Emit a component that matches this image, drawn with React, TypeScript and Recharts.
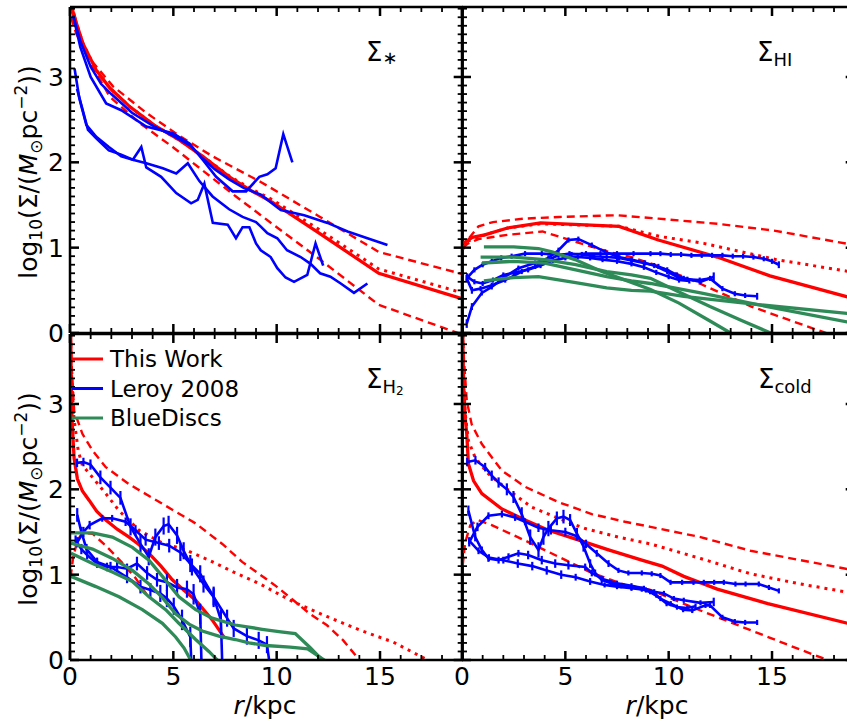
import React from 'react';
import { LineChart, Line, XAxis, YAxis, ReferenceLine, ErrorBar, Legend } from 'recharts';

const RED = '#ff0000';
const BLUE = '#0000ff';
const GREEN = '#2e8b57';

const X_MAX = 19;
const Y_MAX = 3.82;
const X_TICKS = Array.from({ length: 20 }, (_, i) => i);
const Y_TICKS = Array.from({ length: 39 }, (_, i) => i / 10);
const X_LABELS = [0, 5, 10, 15];
const Y_LABELS = [0, 1, 2, 3];

// ---- stellar surface density (top left) ----
const starSolid = [[0.05, 3.95], [0.15, 3.75], [0.63, 3.39], [1.27, 3.08], [1.93, 2.87], [2.9, 2.65], [4.17, 2.42], [5.3, 2.26], [6.42, 2.07], [7.71, 1.83], [8.68, 1.68], [9.8, 1.53], [12.0, 1.18], [14.94, 0.7], [19.0, 0.4]];
const starDotted = [[0.05, 3.95], [0.15, 3.75], [0.63, 3.39], [1.27, 3.08], [1.93, 2.87], [2.9, 2.65], [4.17, 2.42], [5.3, 2.26], [6.42, 2.07], [7.71, 1.84], [8.68, 1.7], [9.8, 1.56], [12.0, 1.22], [14.94, 0.75], [19.0, 0.47]];
const starDashHi = [[0.05, 3.9], [0.4, 3.55], [0.87, 3.24], [2.08, 2.89], [3.69, 2.58], [5.3, 2.31], [6.9, 2.07], [9.23, 1.77], [12.1, 1.36], [14.94, 0.95], [19.0, 0.69]];
const starDashLo = [[0.05, 3.7], [0.3, 3.51], [1.1, 3.12], [1.92, 2.77], [3.37, 2.46], [4.97, 2.18], [6.6, 1.87], [8.03, 1.6], [9.23, 1.38], [12.1, 0.86], [14.94, 0.33], [19.0, -0.02]];
const starL1 = [[0.15, 3.72], [0.5, 3.42], [1.0, 3.12], [1.5, 2.92], [2.0, 2.8], [3.0, 2.58], [4.0, 2.43], [5.0, 2.31], [5.8, 2.2], [6.4, 2.05], [7.0, 1.92], [7.7, 1.8], [8.4, 1.7], [9.23, 1.62], [10.2, 1.44], [11.33, 1.38], [12.46, 1.29], [13.43, 1.19], [14.39, 1.11], [15.36, 1.03]];
const starL2 = [[0.15, 3.72], [0.5, 3.35], [1.0, 3.0], [1.75, 2.69], [2.48, 2.61], [3.69, 2.42], [4.98, 2.34], [5.78, 2.22], [6.42, 2.03], [7.07, 1.83], [7.87, 1.66], [8.52, 1.66], [9.16, 1.83], [9.55, 1.86], [9.95, 1.93], [10.32, 2.33], [10.76, 2.0]];
const starL3 = [[0.22, 3.1], [0.45, 2.75], [0.79, 2.44], [1.27, 2.3], [1.88, 2.18], [2.48, 2.07], [3.04, 2.03], [3.45, 2.18], [3.69, 1.94], [4.41, 1.83], [5.14, 1.64], [5.86, 1.52], [6.18, 1.56], [6.5, 1.75], [6.91, 1.29], [7.63, 1.27], [8.03, 1.11], [8.35, 1.24], [8.68, 1.24], [9.0, 1.05], [9.23, 0.97], [9.71, 0.89], [10.03, 0.76], [10.43, 0.65], [10.84, 0.6], [11.48, 0.68], [11.88, 1.05], [12.25, 0.79]];
const starL4 = [[0.34, 2.86], [0.87, 2.38], [1.27, 2.28], [1.88, 2.14], [2.48, 2.09], [3.04, 2.03], [3.69, 1.99], [4.49, 1.93], [5.14, 1.87], [5.7, 1.99], [6.26, 1.78], [6.9, 1.6], [7.7, 1.45], [8.35, 1.36], [9.0, 1.3], [9.22, 1.25], [9.55, 1.17], [10.03, 1.11], [10.5, 0.97], [11.16, 0.89], [11.64, 0.81], [12.1, 0.7], [12.6, 0.66], [13.1, 0.58], [13.74, 0.47], [14.39, 0.58]];

// ---- HI (top right) ----
const hiSolid = [[0.05, 1.05], [0.5, 1.12], [1.1, 1.15], [2.2, 1.23], [3.8, 1.29], [7.6, 1.25], [9.5, 1.09], [12.35, 0.89], [14.9, 0.67], [19.0, 0.4]];
const hiDotted = [[0.05, 1.0], [0.3, 1.08], [0.6, 1.1], [1.1, 1.15], [2.2, 1.23], [3.8, 1.28], [7.6, 1.25], [9.6, 1.13], [11.7, 1.05], [15.2, 0.86], [19.0, 0.71]];
const hiDashHi = [[0.05, 0.98], [0.3, 1.1], [0.8, 1.25], [1.5, 1.3], [3.0, 1.34], [4.7, 1.36], [7.5, 1.38], [9.5, 1.34], [12.35, 1.28], [15.1, 1.2], [19.0, 1.03]];
const hiDashLo = [[0.05, 1.0], [0.3, 1.05], [0.8, 1.1], [2.2, 1.15], [3.9, 1.19], [5.2, 1.09], [7.1, 0.95], [8.2, 0.89], [9.3, 0.8], [11.5, 0.58], [14.0, 0.31], [17.6, 0.0], [18.5, -0.08]];
const hiL1 = [[0.23, 0.64, 0.04], [0.6, 0.74, 0.03], [1.0, 0.8, 0.03], [1.44, 0.84, 0.03], [1.9, 0.88, 0.03], [2.4, 0.9, 0.03], [3.05, 0.93, 0.03], [3.86, 0.93, 0.03], [4.6, 0.92, 0.03], [5.3, 0.92, 0.03], [6.0, 0.93, 0.03], [6.7, 0.93, 0.03], [7.5, 0.93, 0.03], [8.3, 0.93, 0.03], [9.12, 0.93, 0.03], [9.6, 0.93, 0.03], [10.1, 0.92, 0.03], [10.6, 0.92, 0.03], [11.1, 0.91, 0.03], [11.6, 0.91, 0.03], [12.1, 0.91, 0.03], [12.6, 0.91, 0.03], [13.1, 0.9, 0.03], [13.6, 0.9, 0.03], [14.1, 0.89, 0.03], [14.6, 0.87, 0.03], [15.0, 0.84, 0.03], [15.33, 0.8, 0.04]];
const hiL2 = [[0.23, 0.64, 0.04], [0.48, 0.5, 0.04], [0.9, 0.52, 0.03], [1.44, 0.56, 0.03], [2.09, 0.62, 0.03], [2.5, 0.67, 0.03], [2.89, 0.72, 0.03], [3.54, 0.78, 0.03], [4.18, 0.86, 0.03], [4.67, 0.91, 0.03], [5.2, 0.93, 0.03], [5.8, 0.92, 0.03], [6.4, 0.9, 0.03], [7.0, 0.89, 0.03], [7.6, 0.88, 0.03], [8.2, 0.85, 0.03], [8.8, 0.82, 0.03], [9.3, 0.79, 0.03], [9.93, 0.72, 0.03], [10.4, 0.66, 0.03], [10.9, 0.63, 0.03], [11.5, 0.62, 0.03], [12.0, 0.64, 0.03], [12.6, 0.52, 0.03], [13.2, 0.46, 0.03], [13.7, 0.44, 0.03], [14.28, 0.43, 0.04]];
const hiL3 = [[0.23, 0.11, 0.05], [0.48, 0.31, 0.04], [0.96, 0.47, 0.03], [1.44, 0.54, 0.03], [2.09, 0.66, 0.03], [2.73, 0.76, 0.03], [3.54, 0.82, 0.03], [4.18, 0.88, 0.03], [4.67, 0.97, 0.03], [5.15, 1.09, 0.03], [5.63, 1.1, 0.03], [6.28, 1.03, 0.03], [6.93, 0.95, 0.03], [7.57, 0.89, 0.03], [8.2, 0.86, 0.03], [8.86, 0.82, 0.03], [9.5, 0.78, 0.03], [9.93, 0.74, 0.03], [10.4, 0.68, 0.03], [10.73, 0.64, 0.03], [11.54, 0.6, 0.03], [12.18, 0.66, 0.05]];
const hiL4 = [[0.25, 0.66, 0.04], [0.6, 0.6, 0.03], [1.0, 0.58, 0.03], [1.5, 0.62, 0.03], [2.0, 0.68, 0.03], [2.6, 0.71, 0.03], [3.2, 0.74, 0.03], [3.8, 0.79, 0.03], [4.4, 0.85, 0.03], [5.0, 0.88, 0.03], [5.6, 0.89, 0.03], [6.2, 0.88, 0.03], [6.8, 0.86, 0.03], [7.5, 0.84, 0.03], [8.2, 0.81, 0.03], [8.8, 0.77, 0.03], [9.4, 0.71, 0.03], [10.0, 0.66, 0.03], [10.5, 0.62, 0.03], [11.0, 0.61, 0.03]];
const hiG1 = [[1.06, 1.01], [2.5, 1.01], [3.7, 0.99], [4.35, 0.95], [5.47, 0.86], [6.76, 0.72], [7.9, 0.62], [9.12, 0.51], [10.5, 0.35], [12.0, 0.14], [12.99, 0.0], [13.3, -0.05]];
const hiG2 = [[0.9, 0.89], [2.5, 0.89], [4.0, 0.86], [5.5, 0.8], [7.0, 0.72], [8.2, 0.68], [9.12, 0.64], [10.5, 0.48], [12.0, 0.31], [13.5, 0.15], [14.93, 0.0], [15.2, -0.04]];
const hiG3 = [[0.97, 0.82], [2.5, 0.84], [4.0, 0.82], [5.5, 0.74], [7.0, 0.66], [8.2, 0.61], [9.12, 0.58], [11.54, 0.47], [14.77, 0.31], [18.63, 0.13], [19.0, 0.12]];
const hiG4 = [[1.06, 0.61], [2.5, 0.65], [3.7, 0.66], [5.5, 0.59], [7.0, 0.53], [8.2, 0.5], [9.12, 0.49], [10.73, 0.43], [14.44, 0.33], [18.63, 0.23], [19.0, 0.22]];

// ---- H2 (bottom left) ----
const h2Solid = [[0.03, 3.9], [0.06, 3.3], [0.1, 2.8], [0.2, 2.36], [0.36, 2.12], [0.6, 1.98], [0.93, 1.87], [1.3, 1.74], [1.73, 1.64], [2.3, 1.53], [2.86, 1.44], [3.3, 1.36], [3.82, 1.25], [4.4, 1.1], [4.95, 0.94], [5.5, 0.82], [6.08, 0.7], [6.5, 0.58], [6.88, 0.47], [7.5, 0.25]];
const h2Dotted = [[0.02, 3.9], [0.08, 3.3], [0.19, 2.84], [0.4, 2.45], [0.6, 2.28], [1.09, 2.14], [1.73, 1.95], [2.37, 1.75], [3.34, 1.52], [4.47, 1.37], [5.6, 1.29], [6.72, 1.17], [8.01, 1.02], [9.2, 0.89], [10.81, 0.68], [12.42, 0.51], [14.03, 0.35], [15.64, 0.21], [17.3, 0.0], [18.0, -0.08]];
const h2DashHi = [[0.02, 3.9], [0.08, 3.46], [0.2, 2.92], [0.6, 2.65], [1.1, 2.45], [1.73, 2.26], [2.86, 2.06], [4.47, 1.83], [6.08, 1.6], [7.37, 1.36], [8.33, 1.15], [9.2, 1.0], [10.0, 0.86], [10.81, 0.7], [11.61, 0.54], [12.42, 0.41], [13.22, 0.23], [14.0, 0.0], [14.5, -0.1]];
const h2DashLo = [[0.03, 0.97], [0.15, 1.2], [0.36, 1.4], [0.6, 1.49], [1.09, 1.48], [1.73, 1.34], [2.53, 1.14], [3.17, 0.96], [3.73, 0.76]];
const h2L1 = [[0.34, 2.31, 0.05], [0.65, 2.32, 0.05], [0.99, 2.29, 0.06], [1.47, 2.14, 0.08], [1.96, 2.02, 0.08], [2.44, 1.9, 0.08], [2.93, 1.56, 0.1], [3.41, 1.36, 0.1], [3.81, 1.21, 0.1], [4.13, 1.44, 0.1], [4.53, 1.57, 0.1], [4.77, 1.59, 0.1], [5.18, 1.46, 0.1], [5.5, 1.28, 0.1], [5.9, 1.09, 0.1], [6.46, 0.89, 0.1], [6.95, 0.74, 0.12], [7.3, 0.47, 0.12], [7.4, -0.3, 0]];
const h2L2 = [[0.35, 1.38, 0.06], [0.65, 1.5, 0.06], [0.95, 1.58, 0.05], [1.56, 1.66, 0.04], [2.04, 1.66, 0.04], [2.69, 1.62, 0.05], [3.17, 1.52, 0.06], [3.66, 1.41, 0.07], [4.3, 1.37, 0.08], [4.8, 1.34, 0.08], [5.34, 1.26, 0.1], [5.82, 1.13, 0.1], [6.3, 1.01, 0.1], [6.95, 0.74, 0.1], [7.6, 0.49, 0.1], [7.92, 0.37, 0.1], [8.56, 0.28, 0.1], [9.13, 0.23, 0.1], [9.53, 0.18, 0.1], [9.75, -0.2, 0]];
const h2L3 = [[0.27, 1.4, 0.06], [0.55, 1.3, 0.06], [0.83, 1.23, 0.05], [1.31, 1.13, 0.05], [1.79, 1.09, 0.05], [2.28, 1.09, 0.06], [2.76, 1.07, 0.06], [3.24, 1.13, 0.08], [3.73, 1.02, 0.08], [4.21, 0.94, 0.08], [4.69, 0.91, 0.1], [5.18, 0.85, 0.1], [5.66, 0.83, 0.1], [5.98, 0.77, 0.12], [6.3, 0.54, 0.12], [6.38, -0.2, 0]];
const h2L4 = [[0.35, 1.7, 0.08], [0.55, 1.5, 0.06], [0.8, 1.3, 0.06], [1.31, 1.15, 0.05], [1.96, 1.09, 0.06], [2.76, 0.97, 0.07], [3.41, 0.86, 0.08], [3.89, 0.82, 0.08], [4.37, 0.78, 0.1], [4.69, 0.72, 0.1], [5.02, 0.63, 0.1], [5.42, 0.47, 0.12], [5.82, 0.27, 0.12], [5.9, -0.2, 0]];
const h2G1 = [[0.05, 1.49], [1.09, 1.49], [2.05, 1.44], [3.02, 1.32], [3.82, 1.17], [4.47, 0.98], [5.27, 0.74], [6.08, 0.59], [6.88, 0.49], [8.0, 0.41], [9.3, 0.36], [10.2, 0.33], [10.9, 0.31], [11.6, 0.15], [12.2, 0.0], [12.5, -0.08]];
const h2G2 = [[0.05, 1.37], [1.09, 1.3], [2.05, 1.19], [3.02, 1.05], [3.82, 0.89], [4.47, 0.73], [5.11, 0.54], [5.76, 0.42], [6.4, 0.34], [7.2, 0.28], [8.0, 0.24], [8.66, 0.2], [9.47, 0.17], [10.65, 0.15], [11.5, 0.13], [12.3, 0.0], [12.6, -0.06]];
const h2G3 = [[0.05, 1.25], [1.09, 1.13], [2.05, 1.03], [3.02, 0.92], [3.82, 0.74], [4.63, 0.59], [5.27, 0.43], [6.08, 0.24], [6.72, 0.1], [7.13, 0.0], [7.3, -0.05]];
const h2G4 = [[0.05, 0.98], [1.25, 0.86], [2.37, 0.74], [3.5, 0.59], [4.47, 0.43], [5.11, 0.27], [5.52, 0.14], [5.84, 0.0], [6.0, -0.06]];

// ---- cold gas (bottom right) ----
const coldSolid = [[0.03, 3.9], [0.08, 3.2], [0.15, 2.85], [0.23, 2.65], [0.31, 2.3], [0.56, 2.1], [0.96, 1.95], [1.93, 1.77], [3.05, 1.64], [4.18, 1.52], [5.47, 1.42], [7.09, 1.29], [8.7, 1.17], [9.68, 1.1], [10.73, 0.98], [12.35, 0.83], [14.8, 0.66], [19.0, 0.41]];
const coldDotted = [[0.03, 3.9], [0.08, 3.3], [0.15, 2.9], [0.31, 2.57], [0.64, 2.37], [1.28, 2.18], [2.25, 1.99], [3.38, 1.79], [4.67, 1.66], [5.96, 1.54], [7.57, 1.44], [9.12, 1.36], [11.54, 1.19], [13.96, 1.01], [16.38, 0.89], [19.0, 0.78]];
const coldDashHi = [[0.02, 3.9], [0.1, 3.5], [0.23, 3.04], [0.47, 2.76], [0.96, 2.53], [1.93, 2.22], [3.05, 2.03], [4.67, 1.85], [6.28, 1.71], [7.89, 1.62], [9.12, 1.56], [11.54, 1.44], [13.96, 1.28], [16.38, 1.17], [19.0, 1.05]];
const coldDashLo = [[0.03, 1.1], [0.15, 1.37], [0.4, 1.58], [0.75, 1.64], [1.44, 1.58], [3.05, 1.4], [4.67, 1.21], [6.28, 1.02], [7.89, 0.88], [9.12, 0.82], [11.54, 0.58], [13.96, 0.35], [16.38, 0.12], [17.7, 0.0], [18.5, -0.07]];
const coldL1 = [[0.25, 2.32, 0.05], [0.65, 2.34, 0.05], [1.12, 2.26, 0.05], [1.44, 2.16, 0.06], [1.77, 2.08, 0.06], [2.17, 2.0, 0.07], [2.49, 1.91, 0.07], [2.89, 1.71, 0.08], [3.3, 1.44, 0.09], [3.7, 1.29, 0.09], [3.94, 1.44, 0.09], [4.18, 1.54, 0.09], [4.59, 1.66, 0.08], [4.91, 1.68, 0.08], [5.23, 1.64, 0.07], [5.56, 1.48, 0.07], [5.88, 1.33, 0.06], [6.2, 1.13, 0.05], [6.44, 1.02, 0.04], [6.76, 0.94, 0.04], [7.2, 0.9, 0.03], [7.7, 0.87, 0.03], [8.2, 0.85, 0.03], [8.7, 0.83, 0.03], [9.1, 0.8, 0.03], [9.6, 0.72, 0.03], [10.1, 0.66, 0.03], [10.7, 0.59, 0.03], [11.14, 0.58, 0.03], [11.78, 0.64, 0.03], [12.0, 0.64, 0.03], [12.6, 0.5, 0.03], [13.2, 0.45, 0.03], [13.7, 0.44, 0.03], [14.28, 0.44, 0.03]];
const coldL2 = [[0.35, 1.38, 0.05], [0.75, 1.56, 0.05], [1.28, 1.69, 0.04], [1.93, 1.71, 0.04], [2.57, 1.67, 0.04], [3.05, 1.62, 0.04], [3.7, 1.55, 0.05], [4.3, 1.52, 0.05], [5.0, 1.5, 0.05], [5.56, 1.45, 0.05], [6.0, 1.36, 0.05], [6.52, 1.25, 0.04], [7.09, 1.13, 0.04], [7.57, 1.05, 0.03], [8.05, 1.02, 0.03], [8.7, 1.02, 0.03], [9.18, 1.01, 0.03], [9.6, 0.99, 0.03], [10.09, 0.91, 0.03], [10.65, 0.91, 0.03], [11.2, 0.91, 0.03], [11.7, 0.91, 0.03], [12.2, 0.91, 0.03], [12.67, 0.91, 0.03], [13.23, 0.89, 0.03], [13.72, 0.89, 0.03], [14.36, 0.89, 0.03], [14.85, 0.85, 0.03], [15.33, 0.81, 0.03]];
const coldL3 = [[0.31, 1.75, 0.06], [0.64, 1.44, 0.05], [0.96, 1.29, 0.04], [1.28, 1.19, 0.04], [1.77, 1.17, 0.04], [2.25, 1.21, 0.04], [2.73, 1.25, 0.04], [3.2, 1.23, 0.05], [3.86, 1.17, 0.05], [4.51, 1.13, 0.05], [5.15, 1.11, 0.05], [5.96, 1.09, 0.04], [6.28, 1.02, 0.04], [6.8, 0.95, 0.03], [7.5, 0.9, 0.03], [8.2, 0.87, 0.03], [8.8, 0.84, 0.03], [9.3, 0.8, 0.03], [9.77, 0.78, 0.03], [10.25, 0.72, 0.03], [10.73, 0.7, 0.03], [11.54, 0.67, 0.03], [12.18, 0.68, 0.05]];
const coldL4 = [[0.35, 1.4, 0.04], [0.8, 1.28, 0.04], [1.3, 1.2, 0.04], [2.0, 1.17, 0.04], [2.7, 1.13, 0.05], [3.4, 1.1, 0.05], [4.1, 1.05, 0.05], [4.8, 1.0, 0.05], [5.5, 0.97, 0.04], [6.2, 0.92, 0.04], [6.9, 0.88, 0.03], [7.5, 0.86, 0.03], [8.2, 0.84, 0.03], [8.9, 0.82, 0.03], [9.4, 0.76, 0.03], [9.9, 0.66, 0.03], [10.4, 0.62, 0.03], [10.9, 0.61, 0.03], [11.3, 0.63, 0.03]];

const LEGEND_ITEMS = [
  { name: 'This Work', color: RED },
  { name: 'Leroy 2008', color: BLUE },
  { name: 'BlueDiscs', color: GREEN },
];

// plot area geometry (page pixels)
const PW = 392.7;
const PH = 326;
const PL = 64;
const PT = 12;
const PR = 12;
const PB = 44;
const FONT = 'DejaVu Sans';

const toRows = (rows: number[][]) => rows.map(([r, v, e]) => ({ r, v, e: e ?? 0 }));

const model = (solid: number[][], dotted: number[][], hi: number[][], lo: number[][]) => [
  { rows: hi, color: RED, width: 2.4, dash: '8 5' },
  { rows: lo, color: RED, width: 2.4, dash: '8 5' },
  { rows: dotted, color: RED, width: 3, dash: '3 5' },
  { rows: solid, color: RED, width: 3.3 },
];
const leroy = (lines: number[][][], err: boolean) => lines.map((rows) => ({ rows, color: BLUE, width: 2.6, err }));
const discs = (lines: number[][][]) => lines.map((rows) => ({ rows, color: GREEN, width: 3.3 }));

function XTick(props: any) {
  const { x, y, payload, show } = props;
  const v = payload.value;
  const major = v % 5 === 0;
  const len = major ? 9 : 5;
  const w = major ? 2.5 : 1.8;
  return (
    <g>
      <line x1={x} x2={x} y1={y} y2={y - len} stroke="#000" strokeWidth={w} />
      <line x1={x} x2={x} y1={y - PH} y2={y - PH + len} stroke="#000" strokeWidth={w} />
      {show && X_LABELS.includes(v) && (
        <text x={x} y={y + 25} textAnchor="middle" fontSize={25} fontFamily={FONT} fill="#000">{v}</text>
      )}
    </g>
  );
}

function YTick(props: any) {
  const { x, y, payload, show } = props;
  const v = payload.value;
  const major = Math.abs(v - Math.round(v)) < 1e-6;
  const len = major ? 9 : 5;
  const w = major ? 2.5 : 1.8;
  return (
    <g>
      <line x1={x} x2={x + len} y1={y} y2={y} stroke="#000" strokeWidth={w} />
      <line x1={x + PW} x2={x + PW - len} y1={y} y2={y} stroke="#000" strokeWidth={w} />
      {show && major && Y_LABELS.includes(Math.round(v)) && (
        <text x={x - 6} y={y + 9} textAnchor="end" fontSize={25} fontFamily={FONT} fill="#000">{Math.round(v)}</text>
      )}
    </g>
  );
}

function LegendBox() {
  return (
    <svg width={230} height={96} style={{ overflow: 'visible' }}>
      {LEGEND_ITEMS.map((d, i) => (
        <g key={d.name}>
          <line x1={0} x2={31} y1={10 + i * 29.5} y2={10 + i * 29.5} stroke={d.color} strokeWidth={3} />
          <text x={38} y={18 + i * 29.5} fontSize={23} fontFamily={FONT} fill="#000">{d.name}</text>
        </g>
      ))}
    </svg>
  );
}

function Panel({ left, top, series, showX, showY, legend }: any) {
  const frame = { stroke: '#000', strokeWidth: 2.5 };
  return (
    <div style={{ position: 'absolute', left: left - PL, top: top - PT }}>
      <LineChart width={PW + PL + PR} height={PH + PT + PB} margin={{ top: PT, right: PR, bottom: 0, left: 0 }}>
        <XAxis
          type="number"
          dataKey="r"
          domain={[0, X_MAX]}
          allowDataOverflow
          ticks={X_TICKS}
          interval={0}
          height={PB}
          tickSize={0}
          tickMargin={0}
          tickLine={false}
          axisLine={frame}
          tick={(p: any) => <XTick {...p} show={showX} />}
        />
        <YAxis
          type="number"
          domain={[0, Y_MAX]}
          allowDataOverflow
          ticks={Y_TICKS}
          interval={0}
          width={PL}
          tickSize={0}
          tickMargin={0}
          tickLine={false}
          axisLine={frame}
          tick={(p: any) => <YTick {...p} show={showY} />}
        />
        {series.map((s: any, i: number) => (
          <Line
            key={i}
            data={toRows(s.rows)}
            dataKey="v"
            type="linear"
            stroke={s.color}
            strokeWidth={s.width}
            strokeDasharray={s.dash}
            dot={false}
            activeDot={false}
            legendType="none"
            isAnimationActive={false}
          >
            {s.err && <ErrorBar dataKey="e" direction="y" width={0} stroke={BLUE} strokeWidth={2.2} isAnimationActive={false} />}
          </Line>
        ))}
        <ReferenceLine y={Y_MAX} {...frame} />
        <ReferenceLine x={X_MAX} {...frame} />
        {legend && (
          <Legend
            layout="horizontal"
            verticalAlign="middle"
            align="center"
            wrapperStyle={{ left: PL + 2.3, top: PT + 15, width: 230, height: 96 }}
            content={() => <LegendBox />}
          />
        )}
      </LineChart>
    </div>
  );
}

function YTitle({ x, y }: { x: number; y: number }) {
  return (
    <text transform={`translate(${x},${y}) rotate(-90)`} textAnchor="middle" fontSize={25} fontFamily={FONT} fill="#000">
      log<tspan fontSize={17} dy={5}>10</tspan>
      <tspan dy={-5}>(Σ/(</tspan>
      <tspan fontStyle="italic">M</tspan>
      <tspan fontSize={17} dy={5}>⊙</tspan>
      <tspan dy={-5}>pc</tspan>
      <tspan fontSize={17} dy={-10}>−2</tspan>
      <tspan dy={10}>))</tspan>
    </text>
  );
}

export default function App() {
  const starSeries = [...model(starSolid, starDotted, starDashHi, starDashLo), ...leroy([starL1, starL2, starL3, starL4], false)];
  const hiSeries = [...model(hiSolid, hiDotted, hiDashHi, hiDashLo), ...leroy([hiL1, hiL2, hiL3, hiL4], true), ...discs([hiG1, hiG2, hiG3, hiG4])];
  const h2Series = [...model(h2Solid, h2Dotted, h2DashHi, h2DashLo), ...leroy([h2L1, h2L2, h2L3, h2L4], true), ...discs([h2G1, h2G2, h2G3, h2G4])];
  const coldSeries = [...model(coldSolid, coldDotted, coldDashHi, coldDashLo), ...leroy([coldL1, coldL2, coldL3, coldL4], true)];

  return (
    <div style={{ position: 'absolute', left: 0, top: 0, width: 847, height: 724, overflow: 'hidden', background: '#fff', fontFamily: FONT }}>
      <Panel left={69.7} top={7} series={starSeries} showX={false} showY />
      <Panel left={461.7} top={7} series={hiSeries} showX={false} showY={false} />
      <Panel left={69.7} top={334} series={h2Series} showX showY legend />
      <Panel left={461.7} top={334} series={coldSeries} showX showY={false} />
      <svg width={847} height={724} style={{ position: 'absolute', left: 0, top: 0, pointerEvents: 'none' }}>
        <YTitle x={37} y={172} />
        <YTitle x={37} y={499} />
        <text x={265} y={714} textAnchor="middle" fontSize={25} fontFamily={FONT}><tspan fontStyle="italic">r</tspan>/kpc</text>
        <text x={657} y={714} textAnchor="middle" fontSize={25} fontFamily={FONT}><tspan fontStyle="italic">r</tspan>/kpc</text>
        <text x={366} y={61} fontSize={26} fontFamily={FONT}>Σ<tspan fontSize={18} dy={3}>∗</tspan></text>
        <text x={757} y={61} fontSize={26} fontFamily={FONT}>Σ<tspan fontSize={18} dy={5}>HI</tspan></text>
        <text x={366} y={388} fontSize={26} fontFamily={FONT}>Σ<tspan fontSize={18} dy={5}>H</tspan><tspan fontSize={12} dy={2}>2</tspan></text>
        <text x={758} y={388} fontSize={26} fontFamily={FONT}>Σ<tspan fontSize={18} dy={5}>cold</tspan></text>
      </svg>
    </div>
  );
}
